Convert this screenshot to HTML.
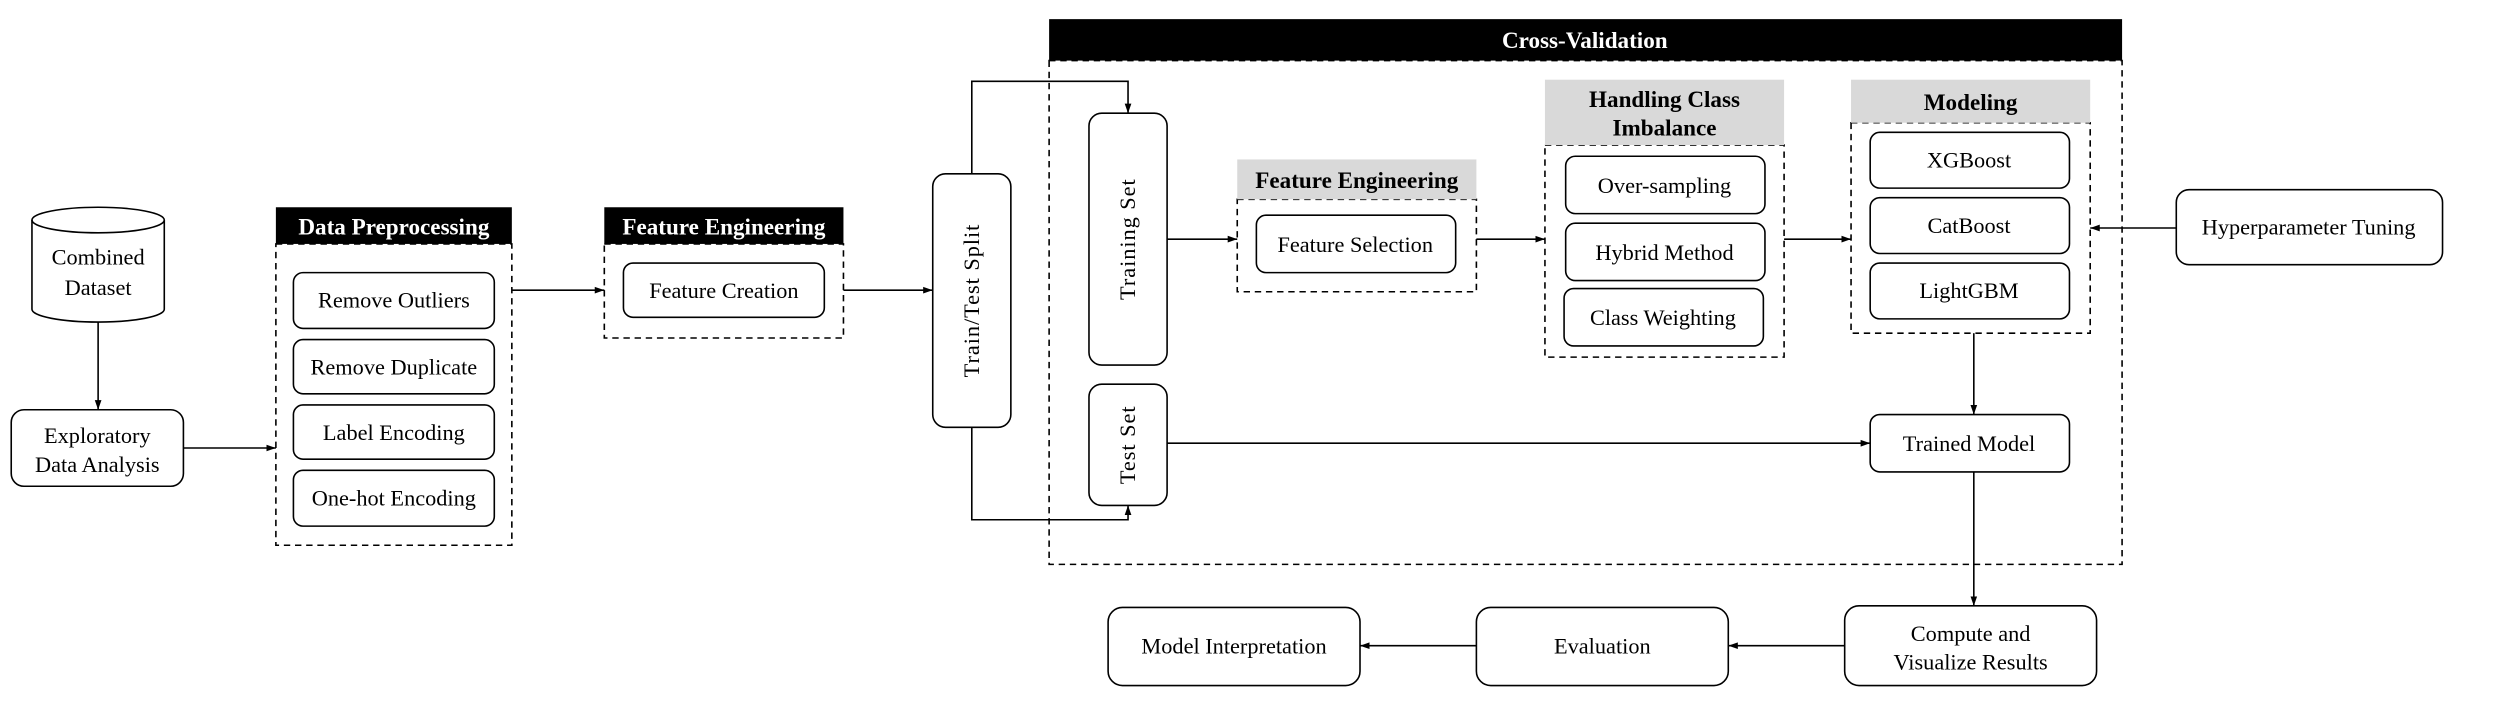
<!DOCTYPE html>
<html><head><meta charset="utf-8"><style>
html,body{margin:0;padding:0;background:#fff;}
svg{display:block;}
text{font-family:"Liberation Serif",serif;fill:#000;}
.n{font-size:14px;}
.b{font-size:14.5px;font-weight:bold;}
.w{fill:#fff;}
</style></head><body>
<svg width="2500" height="727" viewBox="0 0 1568 456" xmlns="http://www.w3.org/2000/svg">
<defs>
<marker id="a" viewBox="0 0 10 10" refX="10" refY="5" markerWidth="6" markerHeight="6" orient="auto"><path d="M0,1.5 L10,5 L0,8.5 z" fill="#000"/></marker>
</defs>
<g fill="none" stroke="#000" stroke-width="1">
<!-- cylinder -->
<path d="M20,138 L20,194 A41.5,8 0 0 0 103,194 L103,138"/>
<ellipse cx="61.5" cy="138" rx="41.5" ry="8"/>
<rect x="7" y="257" width="108" height="48" rx="8"/>
<!-- data preprocessing -->
<rect x="173" y="153" width="148" height="189" stroke-dasharray="4,3"/>
<rect x="184" y="171" width="126" height="35" rx="6"/>
<rect x="184" y="213" width="126" height="34" rx="6"/>
<rect x="184" y="254" width="126" height="34" rx="6"/>
<rect x="184" y="295" width="126" height="35" rx="6"/>
<!-- FE -->
<rect x="379" y="153" width="150" height="59" stroke-dasharray="4,3"/>
<rect x="391" y="165" width="126" height="34" rx="6"/>
<rect x="585" y="109" width="49" height="159" rx="8"/>
<!-- CV -->
<rect x="658" y="38" width="673" height="316" stroke-dasharray="4,3"/>
<rect x="683" y="71" width="49" height="158" rx="8"/>
<rect x="683" y="241" width="49" height="76" rx="8"/>
<rect x="776" y="125" width="150" height="58" stroke-dasharray="4,3"/>
<rect x="788" y="135" width="125" height="36" rx="6"/>
<rect x="969" y="91" width="150" height="133" stroke-dasharray="4,3"/>
<rect x="982" y="98" width="125" height="36" rx="6"/>
<rect x="982" y="140" width="125" height="36" rx="6"/>
<rect x="981" y="181" width="125" height="36" rx="6"/>
<rect x="1161" y="77" width="150" height="132" stroke-dasharray="4,3"/>
<rect x="1173" y="83" width="125" height="35" rx="6"/>
<rect x="1173" y="124" width="125" height="35" rx="6"/>
<rect x="1173" y="165" width="125" height="35" rx="6"/>
<rect x="1365" y="119" width="167" height="47" rx="8"/>
<rect x="1173" y="260" width="125" height="36" rx="6"/>
<rect x="1157" y="380" width="158" height="50" rx="9"/>
<rect x="926" y="381" width="158" height="49" rx="9"/>
<rect x="695" y="381" width="158" height="49" rx="9"/>
<!-- connectors -->
<path d="M61.5,202 L61.5,257" marker-end="url(#a)"/>
<path d="M115,281 L173,281" marker-end="url(#a)"/>
<path d="M321,182 L379,182" marker-end="url(#a)"/>
<path d="M529,182 L585,182" marker-end="url(#a)"/>
<path d="M609.5,109 L609.5,51 L707.5,51 L707.5,71" marker-end="url(#a)"/>
<path d="M609.5,268 L609.5,326 L707.5,326 L707.5,317" marker-end="url(#a)"/>
<path d="M732,150 L776,150" marker-end="url(#a)"/>
<path d="M926,150 L969,150" marker-end="url(#a)"/>
<path d="M1119,150 L1161,150" marker-end="url(#a)"/>
<path d="M1365,143 L1311,143" marker-end="url(#a)"/>
<path d="M1238,209 L1238,260" marker-end="url(#a)"/>
<path d="M732,278 L1173,278" marker-end="url(#a)"/>
<path d="M1238,296 L1238,380" marker-end="url(#a)"/>
<path d="M1157,405 L1084,405" marker-end="url(#a)"/>
<path d="M926,405 L853,405" marker-end="url(#a)"/>
</g>
<!-- headers -->
<rect x="173" y="130" width="148" height="23" fill="#000"/>
<rect x="379" y="130" width="150" height="23" fill="#000"/>
<rect x="658" y="12" width="673" height="26" fill="#000"/>
<rect x="776" y="100" width="150" height="25" fill="#d9d9d9"/>
<rect x="969" y="50" width="150" height="41" fill="#d9d9d9"/>
<rect x="1161" y="50" width="150" height="27" fill="#d9d9d9"/>
<g text-anchor="middle">
<text class="b w" x="247" y="147">Data Preprocessing</text>
<text class="b w" x="454" y="147">Feature Engineering</text>
<text class="b w" x="994" y="30">Cross-Validation</text>
<text class="b" x="851" y="118">Feature Engineering</text>
<text class="b" x="1044" y="67">Handling Class</text>
<text class="b" x="1044" y="85">Imbalance</text>
<text class="b" x="1236" y="69">Modeling</text>
<text class="n" x="61.5" y="166">Combined</text>
<text class="n" x="61.5" y="185">Dataset</text>
<text class="n" x="61" y="278">Exploratory</text>
<text class="n" x="61" y="296">Data Analysis</text>
<text class="n" x="247" y="193">Remove Outliers</text>
<text class="n" x="247" y="235">Remove Duplicate</text>
<text class="n" x="247" y="276">Label Encoding</text>
<text class="n" x="247" y="317">One-hot Encoding</text>
<text class="n" x="454" y="187">Feature Creation</text>
<text class="n" x="850" y="158">Feature Selection</text>
<text class="n" x="1044" y="121">Over-sampling</text>
<text class="n" x="1044" y="163">Hybrid Method</text>
<text class="n" x="1043" y="204">Class Weighting</text>
<text class="n" x="1235" y="105">XGBoost</text>
<text class="n" x="1235" y="146">CatBoost</text>
<text class="n" x="1235" y="187">LightGBM</text>
<text class="n" x="1448" y="147">Hyperparameter Tuning</text>
<text class="n" x="1235" y="283">Trained Model</text>
<text class="n" x="1236" y="402">Compute and</text>
<text class="n" x="1236" y="420">Visualize Results</text>
<text class="n" x="1005" y="410">Evaluation</text>
<text class="n" x="774" y="410">Model Interpretation</text>
<text class="n" transform="translate(614,188.5) rotate(-90)" letter-spacing="0.6">Train/Test Split</text>
<text class="n" transform="translate(712,150) rotate(-90)" letter-spacing="0.6">Training Set</text>
<text class="n" transform="translate(712,279) rotate(-90)" letter-spacing="0.6">Test Set</text>
</g>
</svg>
</body></html>
